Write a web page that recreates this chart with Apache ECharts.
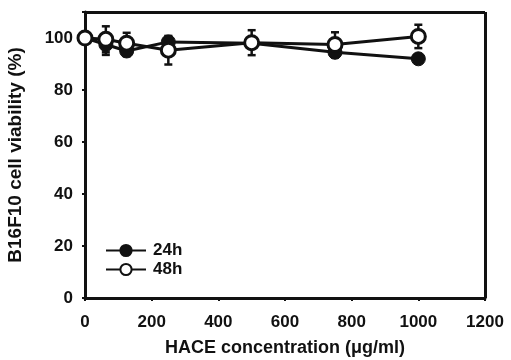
<!DOCTYPE html>
<html>
<head>
<meta charset="utf-8">
<script src="https://cdn.jsdelivr.net/npm/echarts@6/dist/echarts.min.js"></script>
<style>
  html, body { margin: 0; padding: 0; background: #fff; }
  #chart { width: 511px; height: 360px; }
</style>
</head>
<body>
<div id="chart"></div>
<script>
// concentrations (ug/ml)
const doses = [0, 62.5, 125, 250, 500, 750, 1000]
// viability, 24h
const v24 = [100, 97.5, 95, 98.5, 98, 94.5, 92]
const e24 = [0, 4, 2, 2, 2, 2, 1]
// viability, 48h
const v48 = [100, 99.5, 98, 95.3, 98.2, 97.5, 100.6]
const e48 = [0, 5, 4, 5.5, 4.8, 4.7, 4.5]

const xTicks = [0, 200, 400, 600, 800, 1000, 1200]
const yTicks = [0, 20, 40, 60, 80, 100]

const chart = echarts.init(document.getElementById('chart'))

const font = 'Liberation Sans, Arial, sans-serif'

function errData(vals, errs) {
  return doses.map((d, i) => [d, vals[i] - errs[i], vals[i] + errs[i]])
}

function renderErr(params, api) {
  const x = api.value(0)
  const lo = api.coord([x, api.value(1)])
  const hi = api.coord([x, api.value(2)])
  const w = 4
  const style = { stroke: '#111', lineWidth: 2.5 }
  return {
    type: 'group',
    children: [
      { type: 'line', shape: { x1: lo[0], y1: lo[1], x2: hi[0], y2: hi[1] }, style },
      { type: 'line', shape: { x1: lo[0] - w, y1: lo[1], x2: lo[0] + w, y2: lo[1] }, style },
      { type: 'line', shape: { x1: hi[0] - w, y1: hi[1], x2: hi[0] + w, y2: hi[1] }, style }
    ]
  }
}

const axisLine = { show: true, lineStyle: { color: '#111', width: 3 } }
const labelStyle = { fontFamily: font, fontWeight: 'bold', fontSize: 17, color: '#111' }

const option = {
  backgroundColor: '#fff',
  animation: false,
  grid: { left: 85, right: 26, top: 12, bottom: 62, outerBoundsMode: 'none', containLabel: false },
  legend: {
    orient: 'vertical',
    left: 100,
    top: 237,
    itemWidth: 40,
    itemHeight: 14,
    itemGap: 2,
    data: ['24h', '48h'],
    textStyle: { fontFamily: font, fontWeight: 'bold', fontSize: 17, color: '#111', padding: [0, 0, 0, 2] }
  },
  xAxis: {
    type: 'value',
    min: 0,
    max: 1200,
    interval: 200,
    name: 'HACE concentration (\u03bcg/ml)',
    nameLocation: 'middle',
    nameGap: 41,
    nameTextStyle: { fontFamily: font, fontWeight: 'bold', fontSize: 18, color: '#111' },
    axisLine,
    axisTick: { show: true, length: 3, lineStyle: { color: '#111', width: 2 } },
    axisLabel: Object.assign({ margin: 16, formatter: v => String(v) }, labelStyle),
    splitLine: { show: false }
  },
  yAxis: {
    type: 'value',
    min: 0,
    max: 110,
    interval: 20,
    name: 'B16F10 cell viability (%)',
    nameLocation: 'middle',
    nameGap: 60,
    nameTextStyle: { fontFamily: font, fontWeight: 'bold', fontSize: 19, color: '#111' },
    axisLine,
    axisTick: { show: true, length: 3, lineStyle: { color: '#111', width: 2 } },
    axisLabel: Object.assign({
      margin: 12,
      formatter: v => (yTicks.includes(v) ? String(v) : '')
    }, labelStyle),
    splitLine: { show: false }
  },
  series: [
    // box top/right
    {
      type: 'line',
      silent: true,
      data: [],
      markLine: {
        silent: true,
        symbol: 'none',
        label: { show: false },
        lineStyle: { color: '#111', width: 3, type: 'solid' },
        data: [
          [{ coord: [0, 110] }, { coord: [1200, 110] }],
          [{ coord: [1200, 0] }, { coord: [1200, 110] }]
        ]
      }
    },
    {
      name: 'err24',
      type: 'custom',
      renderItem: renderErr,
      data: errData(v24, e24),
      z: 2
    },
    {
      name: 'err48',
      type: 'custom',
      renderItem: renderErr,
      data: errData(v48, e48),
      z: 2
    },
    {
      name: '24h',
      type: 'line',
      data: doses.map((d, i) => [d, v24[i]]),
      symbol: 'circle',
      symbolSize: 14,
      lineStyle: { color: '#111', width: 3 },
      itemStyle: { color: '#111', borderColor: '#111', borderWidth: 1 },
      z: 3
    },
    {
      name: '48h',
      type: 'line',
      data: doses.map((d, i) => [d, v48[i]]),
      symbol: 'circle',
      symbolSize: 14,
      lineStyle: { color: '#111', width: 3 },
      itemStyle: { color: '#fff', borderColor: '#111', borderWidth: 3 },
      z: 4
    }
  ]
}

chart.setOption(option)
</script>
</body>
</html>
